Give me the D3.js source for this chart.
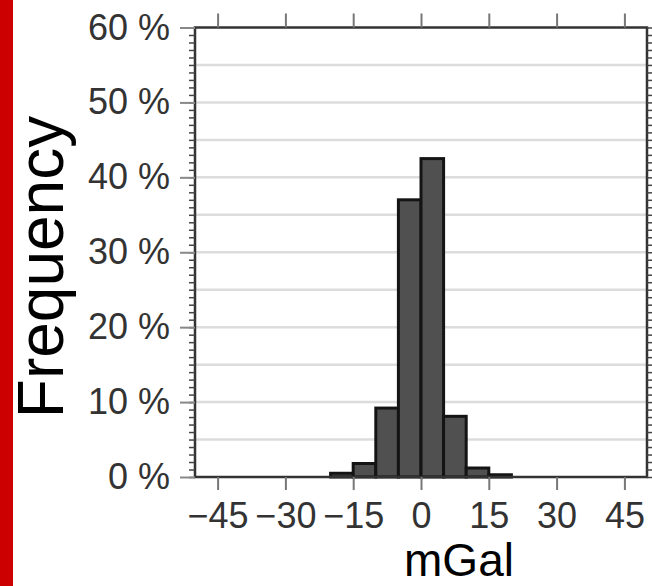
<!DOCTYPE html>
<html>
<head>
<meta charset="utf-8">
<script src="https://cdn.jsdelivr.net/npm/d3@7"></script>
<style>
  body { margin: 0; background: #fff; }
  svg { display: block; font-family: "Liberation Sans", Arial, Helvetica, sans-serif; }
</style>
</head>
<body>
<div id="chart"></div>
<script>
// histogram bins (mGal, left edge, width 5) and share of values in %
const binStarts = [-20, -15, -10, -5, 0, 5, 10, 15];
const binWidth = 5;
const frequency = [0.5, 1.8, 9.2, 37.0, 42.5, 8.1, 1.2, 0.3];

const xTicks = [-45, -30, -15, 0, 15, 30, 45];
const yTicks = [0, 10, 20, 30, 40, 50, 60];
const gridLines = [5, 10, 15, 20, 25, 30, 35, 40, 45, 50, 55];

const W = 652, H = 586;
const plotL = 195, plotR = 647, plotT = 27.5, plotB = 477;

const svg = d3.select("#chart")
    .append("svg")
    .attr("width", W)
    .attr("height", H);

// red strip down the left edge
svg.append("rect")
    .attr("x", 0).attr("y", 0)
    .attr("width", 13).attr("height", H)
    .style("fill", "#cc0000");

const x = d3.scaleLinear().domain([-50, 50]).range([plotL, plotR]);
const y = d3.scaleLinear().domain([0, 60]).range([plotB, plotT]);

// horizontal grid
svg.append("g")
    .selectAll("line")
    .data(gridLines)
    .join("line")
    .attr("x1", plotL).attr("x2", plotR)
    .attr("y1", d => y(d)).attr("y2", d => y(d))
    .style("stroke", "#dcdcdc")
    .style("stroke-width", 2.5);

// bars
svg.append("g")
    .selectAll("rect")
    .data(binStarts)
    .join("rect")
    .attr("x", d => x(d))
    .attr("width", d => x(d + binWidth) - x(d))
    .attr("y", (d, i) => y(frequency[i]))
    .attr("height", (d, i) => y(0) - y(frequency[i]))
    .style("fill", "#505050")
    .style("stroke", "#141414")
    .style("stroke-width", 3);

// frame
svg.append("rect")
    .attr("x", plotL).attr("y", plotT)
    .attr("width", plotR - plotL).attr("height", plotB - plotT)
    .style("fill", "none")
    .style("stroke", "#333")
    .style("stroke-width", 2.5);

// minor ticks every 1 % on both sides
const minorTicks = d3.range(0, 61, 1);
svg.append("g")
    .attr("transform", `translate(${plotL},0)`)
    .call(d3.axisLeft(y).tickValues(minorTicks).tickSize(6).tickFormat(""))
    .call(g => g.select(".domain").remove())
    .call(g => g.selectAll("line").style("stroke", "#444").style("stroke-width", 1.5));

svg.append("g")
    .attr("transform", `translate(${plotR},0)`)
    .call(d3.axisRight(y).tickValues(minorTicks).tickSize(5).tickFormat(""))
    .call(g => g.select(".domain").remove())
    .call(g => g.selectAll("line").style("stroke", "#444").style("stroke-width", 1.5));

// left axis, major ticks + labels
svg.append("g")
    .attr("transform", `translate(${plotL},0)`)
    .call(d3.axisLeft(y).tickValues(yTicks).tickSize(15).tickPadding(10)
        .tickFormat(d => d + " %"))
    .call(g => g.select(".domain").remove())
    .call(g => g.selectAll("line").style("stroke", "#888").style("stroke-width", 2))
    .call(g => g.selectAll("text")
        .style("font-size", "36px")
        .style("font-family", "Liberation Sans, Arial, sans-serif")
        .style("fill", "#333"));

// bottom axis
svg.append("g")
    .attr("transform", `translate(0,${plotB})`)
    .call(d3.axisBottom(x).tickValues(xTicks).tickSize(13).tickPadding(12)
        .tickFormat(d => d < 0 ? "\u2212" + Math.abs(d) : d))
    .call(g => g.select(".domain").remove())
    .call(g => g.selectAll("line").style("stroke", "#777").style("stroke-width", 2))
    .call(g => g.selectAll("text")
        .style("font-size", "36px")
        .style("font-family", "Liberation Sans, Arial, sans-serif")
        .style("fill", "#333"));

// top axis, ticks only
svg.append("g")
    .attr("transform", `translate(0,${plotT})`)
    .call(d3.axisTop(x).tickValues(xTicks).tickSize(14).tickFormat(""))
    .call(g => g.select(".domain").remove())
    .call(g => g.selectAll("line").style("stroke", "#777").style("stroke-width", 2));

// axis titles
svg.append("text")
    .attr("transform", "translate(63,267) rotate(-90)")
    .attr("text-anchor", "middle")
    .style("font-size", "64px")
    .style("fill", "#000")
    .text("Frequency");

svg.append("text")
    .attr("x", 459)
    .attr("y", 576)
    .attr("text-anchor", "middle")
    .style("font-size", "46px")
    .style("fill", "#000")
    .text("mGal");
</script>
</body>
</html>
